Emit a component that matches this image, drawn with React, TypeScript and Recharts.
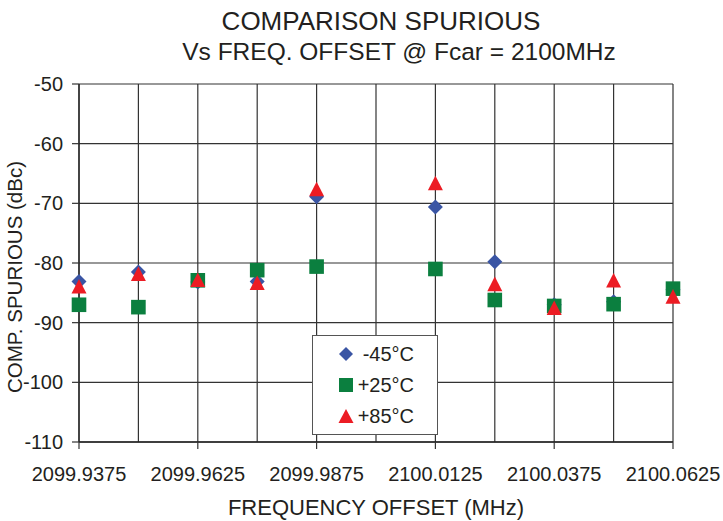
import React from "react";
import {
  ScatterChart,
  Scatter,
  XAxis,
  YAxis,
  CartesianGrid,
  Legend,
  Customized,
} from "recharts";

const titleLines = ["COMPARISON SPURIOUS", "Vs FREQ. OFFSET @ Fcar = 2100MHz"];
const xTitle = "FREQUENCY OFFSET (MHz)";
const yTitle = "COMP. SPURIOUS (dBc)";

const xGridTicks = [
  2099.9375, 2099.95, 2099.9625, 2099.975, 2099.9875, 2100.0, 2100.0125,
  2100.025, 2100.0375, 2100.05, 2100.0625,
];
const xTickLabels = [
  "2099.9375",
  "2099.9625",
  "2099.9875",
  "2100.0125",
  "2100.0375",
  "2100.0625",
];
const yTicks = [-110, -100, -90, -80, -70, -60, -50];

const freqs = [
  2099.9375, 2099.95, 2099.9625, 2099.975, 2099.9875, 2100.0125, 2100.025,
  2100.0375, 2100.05, 2100.0625,
];
const minus45 = [-83.1, -81.5, -83.2, -83.1, -68.9, -70.6, -79.8, -87.0, -86.5, -84.5];
const plus25 = [-87.0, -87.4, -82.9, -81.2, -80.6, -81.0, -86.2, -87.2, -86.9, -84.3];
const plus85 = [-83.9, -81.8, -82.8, -83.3, -67.6, -66.6, -83.5, -87.5, -82.9, -85.6];

const seriesNames = ["-45°C", "+25°C", "+85°C"];
const BLUE = "#3a55a4";
const GREEN = "#0b7f3f";
const RED = "#ec1c24";
const TEXT = "#231f20";
const FONT = "'Liberation Sans', Arial, Helvetica, sans-serif";

const toData = (vals: number[]) => freqs.map((f, i) => ({ x: f, y: vals[i] }));

const Diamond = (props: any) => {
  const { cx, cy } = props;
  const r = 7.5;
  return (
    <polygon
      points={`${cx},${cy - r} ${cx + r},${cy} ${cx},${cy + r} ${cx - r},${cy}`}
      fill={BLUE}
    />
  );
};
const Square = (props: any) => {
  const { cx, cy } = props;
  const s = 7.3;
  return <rect x={cx - s} y={cy - s} width={2 * s} height={2 * s} fill={GREEN} />;
};
const Triangle = (props: any) => {
  const { cx, cy } = props;
  const h = 7.3;
  const w = 7.5;
  return (
    <polygon
      points={`${cx},${cy - h} ${cx + w},${cy + h} ${cx - w},${cy + h}`}
      fill={RED}
    />
  );
};

const XTick = (props: any) => {
  const { x, y, payload } = props;
  const label = xTickLabels.find((l) => Math.abs(parseFloat(l) - payload.value) < 1e-6);
  if (!label) return <g />;
  return (
    <g>
      <line x1={x} y1={y} x2={x} y2={y + 7} stroke="#333" strokeWidth={1.2} />
      <text
        x={x}
        y={y + 39}
        textAnchor="middle"
        fontSize={20}
        fontFamily={FONT}
        fill={TEXT}
      >
        {label}
      </text>
    </g>
  );
};

const Titles = () => (
  <g fontFamily={FONT} fill={TEXT}>
    <text x={381} y={30} textAnchor="middle" fontSize={26}>
      {titleLines[0]}
    </text>
    <text x={399} y={60} textAnchor="middle" fontSize={24.5}>
      {titleLines[1]}
    </text>
    <text x={376} y={515} textAnchor="middle" fontSize={22}>
      {xTitle}
    </text>
    <text
      x={14}
      y={277}
      textAnchor="middle"
      dominantBaseline="central"
      fontSize={20.5}
      transform="rotate(-90 14 277)"
    >
      {yTitle}
    </text>
  </g>
);

const LegendBox = () => {
  const icons = [
    <polygon key="d" points="9,2 16,9 9,16 2,9" fill={BLUE} />,
    <rect key="s" x={2} y={2} width={14} height={14} fill={GREEN} />,
    <polygon key="t" points="9,2 16.5,16 1.5,16" fill={RED} />,
  ];
  return (
    <div
      style={{
        width: 126,
        height: 100,
        boxSizing: "border-box",
        border: "1.5px solid #555",
        background: "#fff",
        position: "relative",
      }}
    >
      <svg width={124} height={98} style={{ position: "absolute", left: 0, top: 0 }}>
        {seriesNames.map((n, i) => (
          <g key={n}>
            <g transform={`translate(${24}, ${9 + i * 31})`}>{icons[i]}</g>
            <text
              x={101}
              y={25 + i * 31}
              textAnchor="end"
              fontSize={20}
              fontFamily={FONT}
              fill={TEXT}
            >
              {n}
            </text>
          </g>
        ))}
      </svg>
    </div>
  );
};

export default function App() {
  return (
    <div style={{ position: "absolute", left: 0, top: 0, background: "#fff" }}>
      <ScatterChart
        width={723}
        height={521}
        margin={{ top: 84, right: 50, bottom: 0, left: 0 }}
      >
        <CartesianGrid
          stroke="#333"
          strokeWidth={1.2}
          horizontal={true}
          vertical={true}
        />
        <XAxis
          type="number"
          dataKey="x"
          domain={[2099.9375, 2100.0625]}
          ticks={xGridTicks}
          interval={0}
          height={79}
          tickSize={0}
          tickMargin={0}
          tickLine={false}
          tick={<XTick />}
          axisLine={{ stroke: "#222", strokeWidth: 1.3 }}
        />
        <YAxis
          type="number"
          dataKey="y"
          domain={[-110, -50]}
          ticks={yTicks}
          interval={0}
          width={79}
          tickSize={7}
          tickMargin={9}
          tickLine={{ stroke: "#333", strokeWidth: 1.2 }}
          axisLine={{ stroke: "#222", strokeWidth: 1.3 }}
          tick={{ fontSize: 20, fontFamily: FONT, fill: TEXT }}
        />
        <Scatter
          name={seriesNames[0]}
          data={toData(minus45)}
          shape={<Diamond />}
          isAnimationActive={false}
        />
        <Scatter
          name={seriesNames[1]}
          data={toData(plus25)}
          shape={<Square />}
          isAnimationActive={false}
        />
        <Scatter
          name={seriesNames[2]}
          data={toData(plus85)}
          shape={<Triangle />}
          isAnimationActive={false}
        />
        <Legend
          layout="vertical"
          align="center"
          verticalAlign="middle"
          wrapperStyle={{ left: 312, top: 335, width: 126, height: 100, bottom: "auto" }}
          content={() => <LegendBox />}
        />
        <Customized component={Titles} />
      </ScatterChart>
    </div>
  );
}
